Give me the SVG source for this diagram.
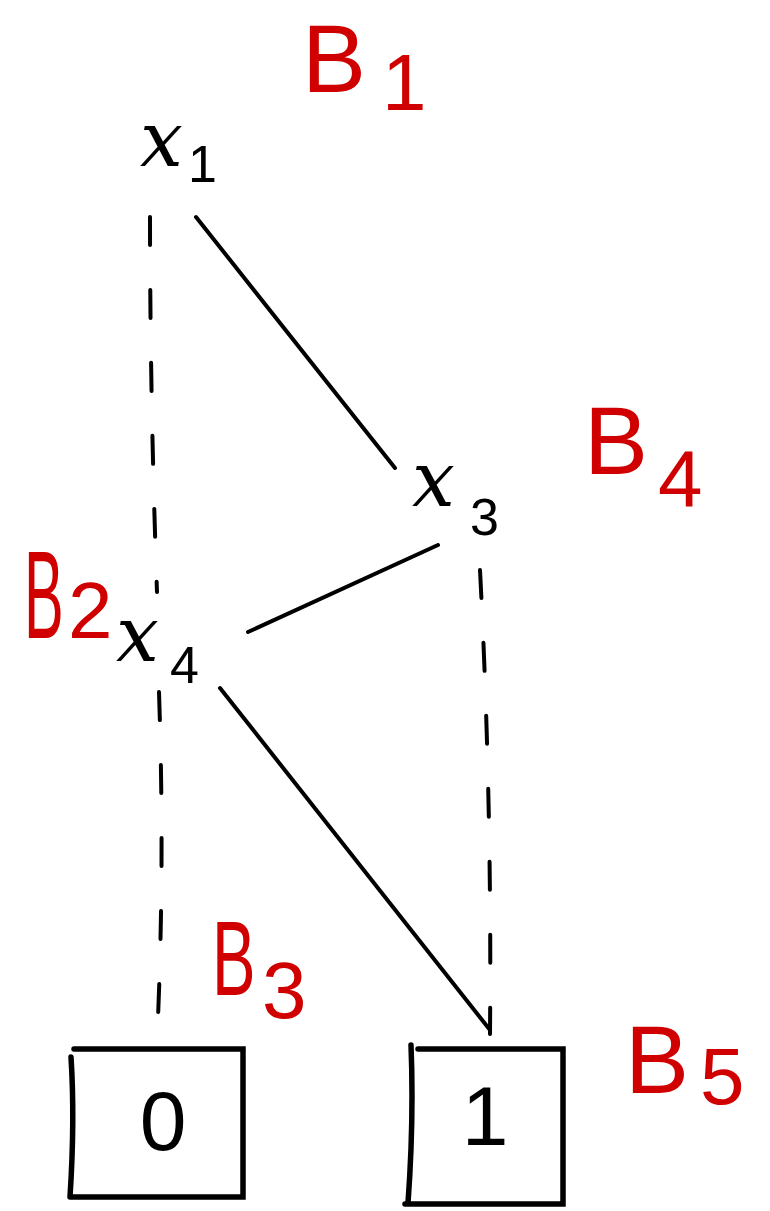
<svg xmlns="http://www.w3.org/2000/svg" width="770" height="1211" viewBox="0 0 770 1211">
<style>
.var{font-family:"DejaVu Serif","Liberation Serif",serif;font-style:italic;font-size:76px;fill:#000}
.sub{font-family:"Liberation Sans",sans-serif;font-style:normal;font-size:52px;fill:#000}
.lbl{font-family:"Liberation Sans",sans-serif;font-size:96px;fill:#d00000}
.lsub{font-family:"Liberation Sans",sans-serif;font-size:80px;fill:#d00000}
.edge{stroke:#000;stroke-width:4;fill:none;stroke-linecap:round}
.dash{stroke-dasharray:28 45}
.box{stroke:#000;stroke-width:5.5;fill:none;stroke-linecap:round}
.val{font-family:"Liberation Sans",sans-serif;font-size:84px;fill:#000;text-anchor:middle}
</style>
<rect width="770" height="1211" fill="#fff"/>
<g id="connectors">
<path class="edge dash" d="M150,217 Q150,400 157,592"/>
<path class="edge" d="M196,217 L395,468"/>
<path class="edge" d="M438,545 L248,632"/>
<path class="edge dash" d="M480,570 Q492,800 490,1034"/>
<path class="edge dash" d="M159,692 Q165,870 157,1040"/>
<path class="edge" d="M220,688 L490,1030"/>
</g>
<g id="node-x1">
<text class="var" x="140" y="166">x</text>
<text class="sub" x="188" y="182">1</text>
<text class="lbl" x="302" y="92">B</text>
<text class="lsub" x="382" y="110">1</text>
</g>
<g id="node-x3">
<text class="var" x="412" y="506">x</text>
<text class="sub" x="470" y="535">3</text>
<text class="lbl" x="584" y="474">B</text>
<text class="lsub" x="658" y="506">4</text>
</g>
<g id="node-x4">
<text class="var" x="116" y="661">x</text>
<text class="sub" x="170" y="683">4</text>
<text class="lbl" transform="translate(24,638) scale(0.62,1.3)">B</text>
<text class="lsub" x="68" y="638" font-size="66">2</text>
</g>
<g id="node-0">
<path class="box" d="M74,1049 L243,1049 L243,1197 L70,1197 M71,1057 Q75,1120 70,1197"/>
<text class="val" x="163" y="1150">0</text>
<text class="lbl" transform="translate(212,995) scale(0.68,1.1)">B</text>
<text class="lsub" x="262" y="1018" font-size="70">3</text>
</g>
<g id="node-1">
<path class="box" d="M418,1049 L563,1049 L563,1204 L405,1204 M411,1045 Q414,1120 408,1203"/>
<text class="val" x="485" y="1145">1</text>
<text class="lbl" x="625" y="1093">B</text>
<text class="lsub" x="700" y="1104">5</text>
</g>
</svg>
